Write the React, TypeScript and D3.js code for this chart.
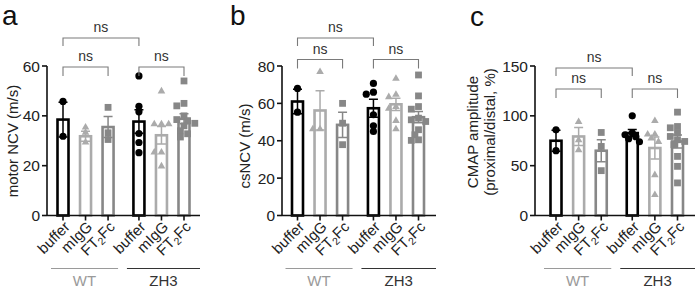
import React from "react";
import * as d3 from "d3";

const groups = ["WT", "ZH3"];
const treatments = ["buffer", "mIgG", "FT2Fc"];

const ncvMeans = [38.5, 31.8, 35.5, 37.7, 32.2, 38.8];
const ncvErrors = [7, 2, 4.2, 4.7, 3.5, 2];
const ncvPoints = [
  [45.8, 31.8],
  [35.5, 33.4, 29.5],
  [43.4, 33.2, 30.5],
  [56, 43.8, 41.6, 32.9, 29.3, 25.2],
  [50, 36.8, 36.8, 36.8, 25.5, 25.5, 19.9],
  [54, 45, 44, 40, 38.5, 38, 37, 36, 34, 32.8, 31.5],
];
const ncvTicks = [0, 20, 40, 60];

const csMeans = [61, 56.2, 48.5, 57.4, 59.5, 52.6];
const csErrors = [6.5, 10.5, 6.8, 4.8, 3.3, 3];
const csPoints = [
  [68, 55.3],
  [77, 46.4, 46.4],
  [60, 49.4, 37.9],
  [70.7, 66, 64.9, 53.9, 48, 45],
  [73.4, 64.9, 63.6, 58.3, 57.4, 50.9, 46.4],
  [75.2, 64, 58.3, 56.9, 52.1, 51.2, 50.3, 45.9, 43.2, 40.5, 40.2],
];
const csTicks = [0, 20, 40, 60, 80];

const cmapMeans = [75, 79.3, 65, 82.7, 67.7, 74.3];
const cmapErrors = [10.5, 9, 11, 3.5, 11, 6.5];
const cmapPoints = [
  [86, 65],
  [94.3, 76, 66],
  [83.3, 69.3, 45],
  [100, 83, 81, 79, 77, 74],
  [95.3, 81.7, 81.7, 77.7, 74.3, 41, 21],
  [103.7, 89.3, 88, 83, 79.3, 76, 74.3, 71, 59.3, 49.3, 32.7],
];
const cmapTicks = [0, 50, 100, 150];

const FONT = "'Liberation Sans', Arial, Helvetica, sans-serif";
const treatColors = ["#000000", "#ababab", "#878787"];
const groupColors = ["#9a9a9a", "#333333"];
const bracketColor = "#7a7a7a";

type PanelCfg = {
  letter: string;
  letterX: number;
  letterY: number;
  axisX: number;
  firstX: number;
  lastX: number;
  endX: number;
  ticks: number[];
  titles: string[];
  titleX: number[];
  titleY: number;
  outerY: number;
  innerY: number;
  means: number[];
  errors: number[];
  points: number[][];
};

const GAP = 1.37;
const TOP = 66;
const BOTTOM = 215.5;

function swarm(vals: number[], y: (v: number) => number) {
  const order = vals.map((v, i) => i).sort((a, b) => vals[b] - vals[a]);
  const placed: { x: number; y: number }[] = [];
  const out: number[] = new Array(vals.length).fill(0);
  const d = 5.2;
  const step = 3.6;
  order.forEach((i) => {
    const py = y(vals[i]);
    const cands = [0];
    for (let k = 1; k < 8; k++) {
      cands.push(-k * step, k * step);
    }
    for (const cx of cands) {
      const ok = placed.every((p) => Math.hypot(p.x - cx, p.y - py) >= d);
      if (ok) {
        out[i] = cx;
        placed.push({ x: cx, y: py });
        break;
      }
    }
  });
  return out;
}

function Marker({ kind, x, y, color }: { kind: number; x: number; y: number; color: string }) {
  if (kind === 0) return <circle cx={x} cy={y} r={3.6} fill={color} />;
  if (kind === 1) {
    const s = 7.6;
    const h = s * 0.866;
    const path = d3.path();
    path.moveTo(x, y - h * 0.62);
    path.lineTo(x + s / 2, y + h * 0.38);
    path.lineTo(x - s / 2, y + h * 0.38);
    path.closePath();
    return <path d={path.toString()} fill={color} />;
  }
  return <rect x={x - 3.4} y={y - 3.4} width={6.8} height={6.8} fill={color} />;
}

function CatLabel({ name, x }: { name: string; x: number }) {
  const t = `translate(${x + 4},${224}) rotate(-45)`;
  if (name === "FT2Fc") {
    return (
      <text transform={t} textAnchor="end" fontSize={15} fill="#222" dy="0.35em">
        FT<tspan fontSize={10.5} dy={3}>2</tspan>
        <tspan dy={-3}>Fc</tspan>
      </text>
    );
  }
  return (
    <text transform={t} textAnchor="end" fontSize={15} fill="#222" dy="0.35em">
      {name}
    </text>
  );
}

function Panel({ cfg }: { cfg: PanelCfg }) {
  const yMax = cfg.ticks[cfg.ticks.length - 1];
  const y = d3.scaleLinear().domain([0, yMax]).range([BOTTOM, TOP]);
  const x = d3.scaleLinear().domain([0, 2 + GAP + 2]).range([cfg.firstX, cfg.lastX]);
  const slots: { g: number; t: number; idx: number; cx: number }[] = [];
  groups.forEach((_, g) =>
    treatments.forEach((_, t) => {
      const idx = g * 3 + t;
      slots.push({ g, t, idx, cx: x(g * (3 - 1 + GAP) + t) });
    })
  );
  const barW = 11;
  const capW = 9;
  const bracket = (x1: number, x2: number, yy: number, leg: number, key: string) => (
    <g key={key}>
      <path
        d={`M${x1},${yy + leg}V${yy}H${x2}V${yy + leg}`}
        fill="none"
        stroke={bracketColor}
        strokeWidth={1.1}
      />
      <text x={(x1 + x2) / 2} y={yy - 6} textAnchor="middle" fontSize={14} fill="#333">
        ns
      </text>
    </g>
  );
  return (
    <g fontFamily={FONT}>
      <text x={cfg.letterX} y={cfg.letterY} fontSize={28} fill="#111">
        {cfg.letter}
      </text>
      {cfg.titles.map((tt, i) => (
        <text
          key={i}
          transform={`translate(${cfg.titleX[i]},${cfg.titleY}) rotate(-90)`}
          textAnchor="middle"
          dy="0.35em"
          fontSize={15}
          fill="#222"
        >
          {tt}
        </text>
      ))}
      {slots.map((s) => {
        const col = treatColors[s.t];
        const m = cfg.means[s.idx];
        const e = cfg.errors[s.idx];
        return (
          <g key={s.idx}>
            <rect
              x={s.cx - barW / 2}
              y={y(m)}
              width={barW}
              height={BOTTOM - y(m)}
              fill="#fff"
              stroke={col}
              strokeWidth={2.6}
            />
            <path
              d={`M${s.cx},${y(m + e)}V${y(m - e)}M${s.cx - capW / 2},${y(m + e)}H${s.cx + capW / 2}M${s.cx - capW / 2},${y(m - e)}H${s.cx + capW / 2}`}
              stroke={col}
              strokeWidth={1.5}
              fill="none"
            />
          </g>
        );
      })}
      {slots.map((s) => {
        const vals = cfg.points[s.idx];
        const offs = swarm(vals, y);
        return (
          <g key={"p" + s.idx}>
            {vals.map((v, i) => (
              <Marker key={i} kind={s.t} x={s.cx + offs[i]} y={y(v)} color={treatColors[s.t]} />
            ))}
          </g>
        );
      })}
      <line x1={cfg.axisX} x2={cfg.axisX} y1={TOP} y2={BOTTOM} stroke="#111" strokeWidth={1.6} />
      {cfg.ticks.map((t) => (
        <g key={t}>
          <line x1={cfg.axisX - 5} x2={cfg.axisX} y1={y(t)} y2={y(t)} stroke="#111" strokeWidth={1.6} />
          <text x={cfg.axisX - 7} y={y(t)} dy="0.36em" textAnchor="end" fontSize={15.5} fill="#222">
            {t}
          </text>
        </g>
      ))}
      <line x1={cfg.axisX} x2={cfg.endX} y1={BOTTOM} y2={BOTTOM} stroke="#111" strokeWidth={1.6} />
      {slots.map((s) => (
        <g key={"t" + s.idx}>
          <line x1={s.cx} x2={s.cx} y1={BOTTOM} y2={BOTTOM + 5} stroke="#111" strokeWidth={1.6} />
          <CatLabel name={treatments[s.t]} x={s.cx} />
        </g>
      ))}
      {groups.map((gname, g) => {
        const x1 = g === 0 ? slots[0].cx - 12 : slots[3].cx - 12;
        const x2 = g === 0 ? slots[2].cx + 10 : cfg.endX;
        return (
          <g key={gname}>
            <line x1={x1} x2={x2} y1={268.5} y2={268.5} stroke={groupColors[g]} strokeWidth={1.2} />
            <text x={(x1 + x2) / 2} y={286} textAnchor="middle" fontSize={15} fill={groupColors[g]}>
              {gname}
            </text>
          </g>
        );
      })}
      {bracket(slots[0].cx, slots[3].cx, cfg.outerY, 8, "o")}
      {bracket(slots[0].cx, slots[2].cx, cfg.innerY, 9, "i1")}
      {bracket(slots[3].cx, slots[5].cx, cfg.innerY, 9, "i2")}
    </g>
  );
}

const panels: PanelCfg[] = [
  {
    letter: "a", letterX: 2, letterY: 25, axisX: 47, firstX: 63, lastX: 184, endX: 200,
    ticks: ncvTicks, titles: ["motor NCV (m/s)"], titleX: [13], titleY: 141,
    outerY: 38, innerY: 67, means: ncvMeans, errors: ncvErrors, points: ncvPoints,
  },
  {
    letter: "b", letterX: 230, letterY: 25, axisX: 282, firstX: 297.5, lastX: 418.5, endX: 436,
    ticks: csTicks, titles: ["csNCV (m/s)"], titleX: [245], titleY: 146,
    outerY: 38, innerY: 59.5, means: csMeans, errors: csErrors, points: csPoints,
  },
  {
    letter: "c", letterX: 470, letterY: 26, axisX: 535, firstX: 556, lastX: 677.5, endX: 695,
    ticks: cmapTicks, titles: ["CMAP amplitude", "(proximal/distal, %)"], titleX: [473, 490], titleY: 132,
    outerY: 68, innerY: 89, means: cmapMeans, errors: cmapErrors, points: cmapPoints,
  },
];

export default function App() {
  return (
    <svg
      width={698}
      height={288}
      style={{ position: "absolute", left: 0, top: 0, background: "#fff" }}
    >
      <rect width={698} height={288} fill="#fff" />
      {panels.map((p) => (
        <Panel key={p.letter} cfg={p} />
      ))}
    </svg>
  );
}
